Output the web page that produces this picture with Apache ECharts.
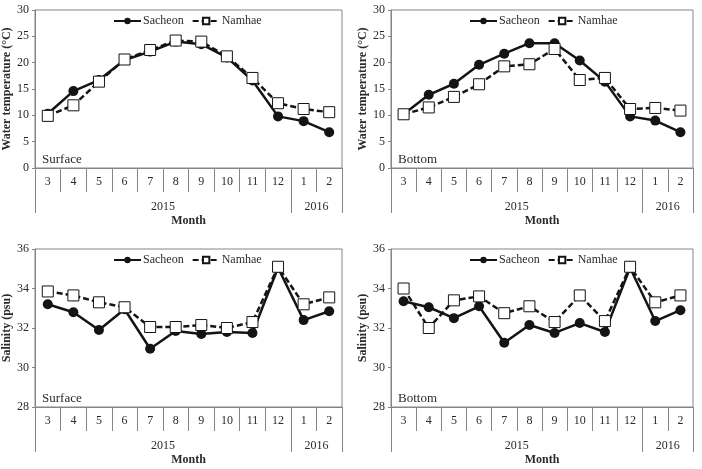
<!DOCTYPE html>
<html>
<head>
<meta charset="utf-8">
<script src="https://cdn.jsdelivr.net/npm/echarts@6/dist/echarts.min.js"></script>
<style>
  html, body { margin: 0; padding: 0; background: #fff; }
  #chart { width: 702px; height: 469px; }
</style>
</head>
<body>
<div id="chart"></div>
<script>
'use strict';

// month categories and the year each group of months belongs to
var months = ['3', '4', '5', '6', '7', '8', '9', '10', '11', '12', '1', '2'];
var years = ['2015', '2016'];
var monthsPerYear = [10, 2];

// water temperature (°C)
var tempSurfaceSacheon = [10.3, 14.6, 16.7, 20.5, 22.1, 24.0, 23.5, 21.0, 16.6, 9.8, 8.9, 6.8];
var tempSurfaceNamhae = [9.9, 11.9, 16.4, 20.6, 22.4, 24.2, 24.0, 21.2, 17.1, 12.3, 11.2, 10.6];
var tempBottomSacheon = [10.2, 13.9, 16.0, 19.6, 21.7, 23.7, 23.7, 20.4, 16.4, 9.8, 9.0, 6.8];
var tempBottomNamhae = [10.2, 11.5, 13.5, 15.9, 19.3, 19.7, 22.6, 16.7, 17.1, 11.2, 11.4, 10.9];

// salinity (psu)
var salSurfaceSacheon = [33.2, 32.8, 31.9, 32.95, 30.95, 31.85, 31.7, 31.8, 31.75, 35.05, 32.4, 32.85];
var salSurfaceNamhae = [33.85, 33.65, 33.3, 33.05, 32.05, 32.05, 32.15, 32.0, 32.3, 35.1, 33.2, 33.55];
var salBottomSacheon = [33.35, 33.05, 32.5, 33.1, 31.25, 32.15, 31.75, 32.25, 31.8, 35.05, 32.35, 32.9];
var salBottomNamhae = [34.0, 32.0, 33.4, 33.6, 32.75, 33.1, 32.3, 33.65, 32.35, 35.1, 33.3, 33.65];

var seriesNames = ['Sacheon', 'Namhae'];

var FONT = '"Liberation Serif", "Times New Roman", serif';
var AXIS_COLOR = '#858585';
var TEXT_COLOR = '#2a2a2a';
var LINE_COLOR = '#141414';

// year boundaries and centres on a 0..12 scale
var yearBounds = [0];
var yearCenters = [];
monthsPerYear.forEach(function (n, i) {
  var start = yearBounds[i];
  yearBounds.push(start + n);
  yearCenters.push(start + n / 2);
});

var panels = [
  {left: 35, top: 10, width: 307, label: 'Surface', yName: 'Water temperature (\u00b0C)',
    min: 0, max: 30, interval: 5, sacheon: tempSurfaceSacheon, namhae: tempSurfaceNamhae},
  {left: 391, top: 10, width: 302, label: 'Bottom', yName: 'Water temperature (\u00b0C)',
    min: 0, max: 30, interval: 5, sacheon: tempBottomSacheon, namhae: tempBottomNamhae},
  {left: 35, top: 249, width: 307, label: 'Surface', yName: 'Salinity (psu)',
    min: 28, max: 36, interval: 2, sacheon: salSurfaceSacheon, namhae: salSurfaceNamhae},
  {left: 391, top: 249, width: 302, label: 'Bottom', yName: 'Salinity (psu)',
    min: 28, max: 36, interval: 2, sacheon: salBottomSacheon, namhae: salBottomNamhae}
];
var PLOT_H = 158;

var grid = [], xAxis = [], yAxis = [], series = [], legend = [], title = [];

panels.forEach(function (p, i) {
  grid.push({
    left: p.left, top: p.top, width: p.width, height: PLOT_H,
    show: true, borderColor: AXIS_COLOR, borderWidth: 1, backgroundColor: 'transparent'
  });

  // month row
  xAxis.push({
    type: 'category', gridIndex: i, data: months, boundaryGap: true,
    axisLine: {lineStyle: {color: AXIS_COLOR, width: 1}},
    axisTick: {show: true, interval: 0, length: 24, lineStyle: {color: AXIS_COLOR}},
    axisLabel: {interval: 0, margin: 8, color: TEXT_COLOR, fontFamily: FONT, fontSize: 12},
    splitLine: {show: false},
    name: 'Month', nameLocation: 'middle', nameGap: 47,
    nameTextStyle: {color: TEXT_COLOR, fontFamily: FONT, fontSize: 12, fontWeight: 'bold'}
  });

  // year row
  xAxis.push({
    type: 'value', gridIndex: i, min: 0, max: months.length, position: 'bottom',
    axisLine: {show: false},
    axisTick: {show: true, customValues: yearBounds, length: 45, lineStyle: {color: AXIS_COLOR}},
    axisLabel: {
      customValues: yearCenters, margin: 33, color: TEXT_COLOR, fontFamily: FONT, fontSize: 12,
      formatter: function (v) {
        var k = yearCenters.indexOf(v);
        return k >= 0 ? years[k] : '';
      }
    },
    splitLine: {show: false}
  });

  yAxis.push({
    type: 'value', gridIndex: i, min: p.min, max: p.max, interval: p.interval,
    axisLine: {show: true, lineStyle: {color: AXIS_COLOR}},
    axisTick: {show: true, length: 3, lineStyle: {color: AXIS_COLOR}},
    axisLabel: {margin: 6, color: TEXT_COLOR, fontFamily: FONT, fontSize: 12},
    splitLine: {show: false},
    name: p.yName, nameLocation: 'middle', nameGap: 22,
    nameTextStyle: {color: TEXT_COLOR, fontFamily: FONT, fontSize: 12, fontWeight: 'bold'}
  });

  series.push({
    name: seriesNames[0], type: 'line', xAxisIndex: i * 2, yAxisIndex: i,
    data: p.sacheon, symbol: 'circle', symbolSize: 10,
    itemStyle: {color: LINE_COLOR},
    lineStyle: {color: LINE_COLOR, width: 2.5},
    z: 2
  });
  series.push({
    name: seriesNames[1], type: 'line', xAxisIndex: i * 2, yAxisIndex: i,
    data: p.namhae, symbol: 'rect', symbolSize: 11,
    itemStyle: {color: '#fff', borderColor: LINE_COLOR, borderWidth: 1},
    lineStyle: {color: LINE_COLOR, width: 2.5, type: [6, 3]},
    z: 3
  });

  legend.push({
    data: seriesNames, left: p.left + 73, top: p.top,
    itemWidth: 27, itemHeight: 8, itemGap: 8,
    textStyle: {color: TEXT_COLOR, fontFamily: FONT, fontSize: 12, padding: [0, 0, 0, -3]}
  });

  title.push({
    text: p.label, left: p.left + 2, top: p.top + PLOT_H - 20,
    textStyle: {color: TEXT_COLOR, fontFamily: FONT, fontSize: 13, fontWeight: 'normal'}
  });
});

var chart = echarts.init(document.getElementById('chart'), null, {renderer: 'canvas'});
chart.setOption({
  animation: false,
  backgroundColor: '#fff',
  title: title,
  legend: legend,
  grid: grid,
  xAxis: xAxis,
  yAxis: yAxis,
  series: series
});
</script>
</body>
</html>
